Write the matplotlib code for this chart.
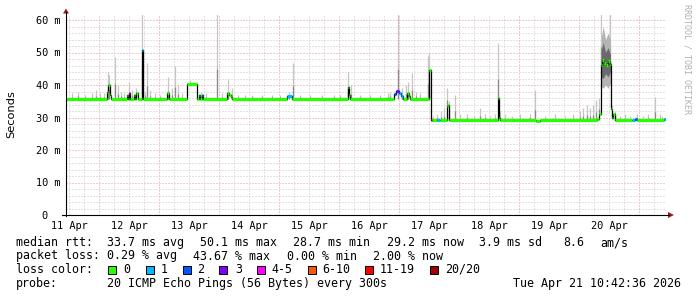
"""
SmokePing style latency graph (10 days), redrawn with matplotlib.
"""
import matplotlib
matplotlib.use('Agg')
import matplotlib.pyplot as plt
from matplotlib.patches import Rectangle, Polygon
from matplotlib.lines import Line2D

# time axis in days since 11 Apr 00:00, graph covers 11 Apr 10:42 -> 21 Apr 10:42
t_start = 0.446
t_end = 10.446
day_labels = ['11 Apr', '12 Apr', '13 Apr', '14 Apr', '15 Apr',
              '16 Apr', '17 Apr', '18 Apr', '19 Apr', '20 Apr']

# median rtt in ms, step values: med_v[i] holds from med_t[i] to med_t[i+1]
med_t = [0.446, 1.13, 1.15, 1.18, 1.20, 1.46, 1.48, 1.50, 1.51, 1.58,
         1.60, 1.61, 1.65, 1.71, 1.73, 2.13, 2.16, 2.46, 2.63, 2.66,
         2.68, 2.71, 2.73, 3.13, 3.16, 3.20, 3.21, 4.13, 4.21, 5.15,
         5.16, 5.18, 5.91, 5.95, 6.00, 6.03, 6.06, 6.13, 6.16, 6.18,
         6.50, 6.53, 6.55, 6.63, 6.68, 6.80, 6.81, 6.83, 7.65, 7.66,
         7.68, 8.28, 8.35, 9.30, 9.33, 9.36, 9.38, 9.41, 9.45, 9.48,
         9.51, 9.53, 9.55, 9.57, 9.60, 9.88, 9.93, 9.96, 10.42]
med_v = [35.8, 38.0, 40.0, 37.0, 35.8, 37.0, 35.8, 37.5, 35.8, 37.0,
         35.8, 37.5, 35.8, 50.8, 35.8, 37.5, 35.8, 40.3, 35.8, 37.0,
         35.8, 37.0, 35.8, 37.5, 37.0, 36.3, 35.8, 36.7, 35.8, 39.5,
         37.0, 35.8, 37.2, 38.2, 37.5, 36.5, 35.8, 37.5, 36.5, 35.8,
         44.6, 29.2, 29.2, 29.2, 29.2, 33.5, 33.8, 29.2, 36.0, 30.0,
         29.2, 28.8, 29.2, 29.5, 31.0, 46.3, 47.7, 46.8, 46.2, 47.5,
         46.5, 32.5, 30.0, 31.2, 29.2, 29.2, 29.4, 29.2, 29.5]
# loss bucket per step (index into loss_labels)
med_loss = [0, 0, 0, 0, 0, 0, 0, 4, 0, 0,
            0, 0, 0, 1, 0, 0, 0, 0, 0, 0,
            0, 1, 0, 0, 0, 0, 0, 1, 0, 0,
            0, 0, 2, 3, 1, 1, 0, 0, 0, 0,
            0, 6, 0, 1, 0, 0, 0, 0, 0, 0,
            0, 0, 0, 0, 0, 0, 0, 0, 0, 0,
            0, 0, 0, 0, 0, 1, 2, 0, 1]

# smoke (spread of the 20 pings) at single samples
smoke_t = [0.55, 0.65, 0.76, 0.88, 0.95, 1.01, 1.08, 1.15, 1.16, 1.26,
           1.31, 1.36, 1.41, 1.50, 1.55, 1.62, 1.71, 1.76, 1.80, 1.85,
           1.93, 2.01, 2.15, 2.21, 2.26, 2.31, 2.38, 2.51, 2.61, 2.70,
           2.78, 2.96, 3.05, 3.15, 3.21, 3.31, 3.43, 3.55, 3.71, 3.88,
           4.01, 4.16, 4.23, 4.35, 4.51, 4.71, 4.91, 5.01, 5.15, 5.20,
           5.35, 5.51, 5.68, 5.81, 5.85, 5.98, 6.05, 6.11, 6.15, 6.21,
           6.28, 6.35, 6.48, 6.50,
           6.56, 6.63, 6.70, 6.75, 6.80, 6.83, 6.93, 7.01, 7.13, 7.25,
           7.35, 7.43, 7.51, 7.60, 7.65, 7.68, 7.76, 7.88, 8.01, 8.18,
           8.26, 8.43, 8.60, 8.76, 8.90, 9.01, 9.06, 9.13, 9.18, 9.23,
           9.28, 9.33, 9.36, 9.51, 9.55, 9.60, 9.68, 9.76, 9.85, 9.96,
           10.06, 10.15, 10.26, 10.35, 10.38]
smoke_lo = [35.8] * 27 + [40.3, 40.3] + [35.8] * 35 + \
           [29.2, 29.2, 29.2, 29.2, 33.5, 29.2, 29.2, 29.2, 29.2, 29.2,
            29.2, 29.2, 29.2, 29.2, 36.0, 29.2, 29.2, 29.2, 29.2, 29.2,
            29.2, 29.2, 29.2, 29.2, 29.2, 29.2, 29.2, 29.2, 29.2, 29.2,
            29.5, 31.0, 46.3, 46.5, 30.0, 29.2, 29.2, 29.2, 29.2, 29.2,
            29.2, 29.2, 29.2, 29.2, 29.2]
smoke_hi = [37.5, 38.0, 37.0, 37.5, 38.5, 37.5, 37.5, 44.0, 43.0, 48.6,
            40.0, 38.0, 37.5, 41.0, 38.5, 39.0, 62.0, 38.0, 46.8, 38.5,
            37.5, 37.0, 42.5, 39.0, 46.0, 40.0, 37.5, 41.5, 41.0, 38.0,
            37.5, 62.0, 37.5, 42.0, 39.0, 37.0, 37.0, 37.0, 37.0, 37.0,
            37.0, 38.0, 46.8, 37.0, 37.0, 37.0, 37.0, 37.0, 44.0, 40.0,
            37.0, 37.0, 37.0, 37.5, 38.0, 62.0, 39.0, 40.0, 41.0, 43.7,
            38.0, 37.5, 49.0, 50.0,
            30.5, 31.0, 32.0, 33.0, 39.0, 35.0, 37.0, 31.0, 31.0, 30.5,
            33.0, 31.0, 30.5, 31.0, 53.0, 32.0, 31.0, 30.5, 31.0, 31.0,
            38.5, 30.5, 31.0, 30.5, 31.0, 32.0, 33.0, 34.0, 33.0, 34.0,
            35.4, 36.0, 62.0, 62.0, 34.0, 32.0, 30.5, 31.0, 30.5, 31.0,
            30.5, 31.0, 36.3, 31.0, 30.5]
# wide smoke band on 20 Apr (outer spread and dense core)
band_t = [9.37, 9.40, 9.44, 9.48, 9.52]
band_lo = [39.5, 39.0, 40.0, 39.0, 40.5]
band_hi = [55.0, 58.0, 54.0, 56.0, 54.0]
core_lo = [42.5, 42.0, 43.5, 42.5, 44.0]
core_hi = [51.0, 53.0, 50.0, 51.5, 49.5]

loss_labels = ['0', '1', '2', '3', '4-5', '6-10', '11-19', '20/20']
loss_colors = ['#26ff00', '#00b8ff', '#0059ff', '#7e00ff',
               '#ff00ff', '#ff5500', '#ff0000', '#a10000']

stats_rtt = ['median rtt:', '33.7 ms avg', '50.1 ms max', '28.7 ms min',
             '29.2 ms now', '3.9 ms sd', '8.6', 'am/s']
stats_loss = ['packet loss:', '0.29 % avg', '43.67 % max', '0.00 % min',
              '2.00 % now']
probe_text = ['probe:', '20 ICMP Echo Pings (56 Bytes) every 300s',
              'Tue Apr 21 10:42:36 2026']

W, H = 697, 297
MONO = 'DejaVu Sans Mono'


def fx(x):
    return x / W


def fy(y):
    return 1 - y / H


fig = plt.figure(figsize=(W / 100, H / 100), dpi=100)
fig.patch.set_facecolor('white')
ax = fig.add_axes([fx(66), fy(215), 600 / W, 200 / H])
ax.set_xlim(t_start, t_end)
ax.set_ylim(0, 200 / 3.25)
for s in ax.spines.values():
    s.set_visible(False)

# grid
dots = (0, (1, 2))
for k in range(0, 44):
    d = k * 0.25
    if t_start < d < t_end:
        major = (k % 4 == 0)
        ax.axvline(d, color='#e09a9a' if major else '#c8c8c8',
                   lw=0.72, ls=dots, zorder=0)
for v in range(2, 62, 2):
    major = (v % 10 == 0)
    ax.axhline(v, color='#e09a9a' if major else '#c8c8c8',
               lw=0.72, ls=dots, zorder=0)

# smoke
ax.vlines(smoke_t, smoke_lo, smoke_hi, color='#c6c6c6', lw=0.9, zorder=1)
mid = [lo + 0.35 * (hi - lo) for lo, hi in zip(smoke_lo, smoke_hi)]
ax.vlines(smoke_t, smoke_lo, mid, color='#8a8a8a', lw=0.9, zorder=1)
ax.fill_between(band_t, band_lo, band_hi, color='#b4b4b4', lw=0, zorder=1)
ax.fill_between(band_t, core_lo, core_hi, color='#6a6a6a', lw=0, zorder=1)

# median line
med_end = med_t[1:] + [t_end]
ax.step(med_t + [t_end], med_v + [med_v[-1]], where='post',
        color='black', lw=0.9, zorder=2)
ax.hlines(med_v, med_t, med_end, colors=[loss_colors[i] for i in med_loss],
          lw=2.3, zorder=3)

# ticks
ax.set_yticks(range(0, 61, 10))
ax.set_yticklabels(['0  '] + ['%d m' % v for v in range(10, 61, 10)])
ax.set_xticks([k + 0.5 for k in range(len(day_labels))])
ax.set_xticklabels(day_labels)
ax.tick_params(axis='both', length=0, labelsize=7.4)
ax.tick_params(axis='y', pad=4.3)
ax.tick_params(axis='x', pad=4.0)
for lab in ax.get_xticklabels() + ax.get_yticklabels():
    lab.set_family(MONO)

# axis lines and arrows
arrow_c = '#9c1c1c'
fig.add_artist(Line2D([fx(66), fx(66)], [fy(216), fy(12)], color='black', lw=0.8))
fig.add_artist(Line2D([fx(62), fx(669)], [fy(215), fy(215)], color='black', lw=0.8))
fig.add_artist(Polygon([(fx(63), fy(13.5)), (fx(69), fy(13.5)), (fx(66), fy(8.5))],
                       closed=True, color=arrow_c, lw=0))
fig.add_artist(Polygon([(fx(668), fy(212)), (fx(668), fy(218)), (fx(674), fy(215))],
                       closed=True, color=arrow_c, lw=0))

fig.text(fx(11), fy(114), 'Seconds', rotation=90, ha='center', va='center',
         fontsize=8.2, family='DejaVu Sans')
fig.text(fx(687), fy(4), 'RRDTOOL / TOBI OETIKER', rotation=-90, ha='center',
         va='top', fontsize=6.0, family=MONO, color='#b0b0b0')

# legend rows
fs = 8.4
rtt_x = [16, 107, 200, 293, 387, 479, 563, 600]
for x, s in zip(rtt_x, stats_rtt):
    fig.text(fx(x), fy(246), s, family=MONO, fontsize=fs, va='baseline')
loss_x = [16, 107, 193, 287, 373]
for x, s in zip(loss_x, stats_loss):
    fig.text(fx(x), fy(259.5), s, family=MONO, fontsize=fs, va='baseline')
fig.text(fx(16), fy(273), 'loss color:', family=MONO, fontsize=fs, va='baseline')
sw_x = [108, 146, 183, 219, 256.5, 307.5, 365, 430]
lab_x = [123, 161, 197, 235, 271, 322.5, 380, 445]
for sx, lx, lab, c in zip(sw_x, lab_x, loss_labels, loss_colors):
    fig.add_artist(Rectangle((fx(sx), fy(273.5)), 8 / W, 8 / H,
                             facecolor=c, edgecolor='black', lw=0.7))
    fig.text(fx(lx), fy(273), lab, family=MONO, fontsize=fs, va='baseline')
probe_x = [16, 107, 513]
for x, s in zip(probe_x, probe_text):
    fig.text(fx(x), fy(287), s, family=MONO, fontsize=fs, va='baseline')

fig.savefig('out.png', dpi=100)
